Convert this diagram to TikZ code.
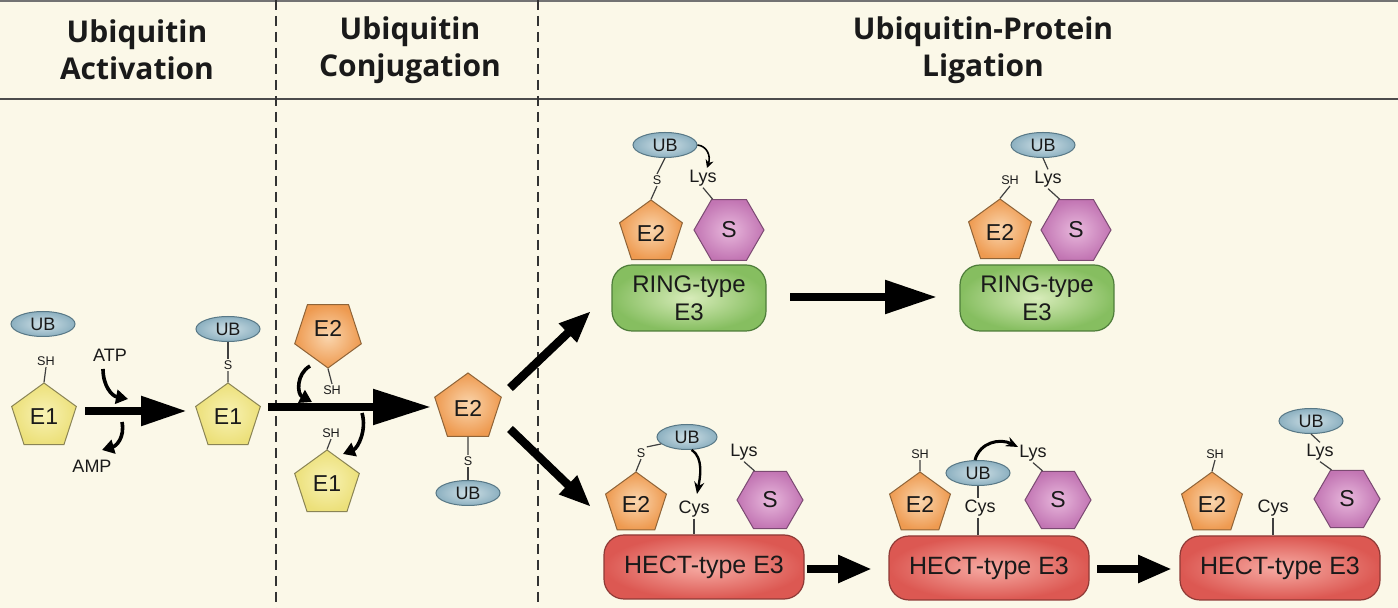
\documentclass[tikz,border=0pt]{standalone}
\usepackage{fontspec}
\setmainfont{Liberation Sans}
\newfontfamily\headfont{Open Sans}
\usetikzlibrary{shapes.geometric,arrows.meta}
\definecolor{bg}{HTML}{FBF8E8}
\definecolor{ubin}{HTML}{CFE0E6}
\definecolor{ubout}{HTML}{8CB0C0}
\definecolor{ubdr}{HTML}{587886}
\definecolor{eoin}{HTML}{F8F2B4}
\definecolor{eoout}{HTML}{ECE07A}
\definecolor{eodr}{HTML}{8A8455}
\definecolor{etin}{HTML}{FAD6AE}
\definecolor{etout}{HTML}{EE9A50}
\definecolor{etdr}{HTML}{8F6438}
\definecolor{sin}{HTML}{E8B8DC}
\definecolor{sout}{HTML}{C275B3}
\definecolor{sdr}{HTML}{7B4A72}
\definecolor{rgin}{HTML}{D8ECBA}
\definecolor{rgout}{HTML}{86BE60}
\definecolor{rgdr}{HTML}{4E7D3A}
\definecolor{hcin}{HTML}{F7ACA4}
\definecolor{hcout}{HTML}{DC5852}
\definecolor{hcdr}{HTML}{8E3A36}
\definecolor{ink}{HTML}{1A1A1A}
\begin{document}
\begin{tikzpicture}[x=0.5pt,y=-0.5pt,
  ub/.style={ellipse,minimum width=32pt,minimum height=12.5pt,inner sep=0pt,
    inner color=ubin,outer color=ubout,draw=ubdr,line width=0.5pt,
    font=\fontsize{9}{10}\selectfont,text=ink},
  eone/.style={regular polygon,regular polygon sides=5,minimum size=34pt,inner sep=0pt,
    inner color=eoin,outer color=eoout,draw=eodr,line width=0.5pt,
    font=\fontsize{11.5}{12}\selectfont,text=ink},
  etwo/.style={regular polygon,regular polygon sides=5,minimum size=33pt,inner sep=0pt,
    inner color=etin,outer color=etout,draw=etdr,line width=0.5pt,
    font=\fontsize{11.5}{12}\selectfont,text=ink},
  etwoinv/.style={etwo,minimum size=35pt,shape border rotate=180},
  sub/.style={regular polygon,regular polygon sides=6,minimum size=35pt,inner sep=0pt,
    inner color=sin,outer color=sout,draw=sdr,line width=0.5pt,
    font=\fontsize{11.5}{12}\selectfont,text=ink},
  ringbox/.style={rectangle,rounded corners=10pt,minimum width=77pt,minimum height=33pt,
    inner color=rgin,outer color=rgout,draw=rgdr,line width=0.6pt,align=center,
    font=\fontsize{12}{14}\selectfont,text=ink},
  hectbox/.style={rectangle,rounded corners=10pt,minimum width=100pt,minimum height=32pt,
    inner color=hcin,outer color=hcout,draw=hcdr,line width=0.6pt,
    font=\fontsize{12.5}{14}\selectfont,text=ink},
  lab/.style={inner sep=0.6pt,font=\fontsize{9}{10}\selectfont,text=ink},
  smalllab/.style={inner sep=0.6pt,font=\fontsize{6.3}{7}\selectfont,text=ink},
  head/.style={align=center,font=\headfont\bfseries\fontsize{15}{18.5}\selectfont,text=ink},
  con/.style={draw=black!75,line width=0.6pt},
  bigarrow/.style={draw=black,line width=4.2pt,-{Triangle[length=23pt,width=14pt]}},
  midarrow/.style={draw=black,line width=4.2pt,-{Triangle[length=16pt,width=12pt]}},
  bentarrow/.style={draw=black,line width=1.8pt,-{Triangle[length=6pt,width=7pt]}},
  thinbent/.style={draw=black,line width=0.8pt,-{Stealth[length=4pt,width=4pt]}},
  divider/.style={draw=black!80,line width=0.8pt,dash pattern=on 5pt off 3pt}
]
\useasboundingbox (0,0) rectangle (1398,608);
\fill[bg] (0,0) rectangle (1398,608);
\draw[black!55,line width=0.6pt] (0,1) -- (1398,1);
\draw[black!70,line width=1.1pt] (0,99) -- (1398,99);
\draw[divider] (276,0) -- (276,608);
\draw[divider] (538,0) -- (538,608);

% headers
\node[head] (h1) at (137,50) {Ubiquitin\\Activation};
\node[head] (h2) at (410,50) {Ubiquitin\\Conjugation};
\node[head] (h3) at (983,50) {Ubiquitin-Protein\\Ligation};

% ---------- activation ----------
\node[ub] (ub1) at (43,324) {UB};
\node[smalllab] (sh1) at (46,361) {SH};
\node[eone] (e1a) at (44,417) {E1};
\draw[con] (sh1.south) -- (e1a.north);
\node[lab] (atp) at (110,355) {ATP};
\node[lab] (amp) at (92,466) {AMP};
\coordinate (atps) at (103,369);
\coordinate (atpe) at (128,399);
\draw[bentarrow] (atps) .. controls (103,386) and (112,396) .. (atpe);
\coordinate (amps) at (122,422);
\coordinate (ampe) at (102,450);
\draw[bentarrow] (amps) .. controls (125,438) and (116,446) .. (ampe);
\coordinate (a1s) at (85,411);
\coordinate (a1e) at (187,411);
\draw[bigarrow] (a1s) -- (a1e);

\node[ub] (ub2) at (228,329) {UB};
\node[smalllab] (s2) at (228,365) {S};
\node[eone] (e1b) at (228,417) {E1};
\draw[con] (ub2.south) -- (s2.north);
\draw[con] (s2.south) -- (e1b.north);

% ---------- conjugation ----------
\coordinate (a2s) at (268,407);
\coordinate (a2e) at (431,407);
\draw[bigarrow,-{Triangle[length=29pt,width=17pt]}] (a2s) -- (a2e);
\node[etwoinv] (e2a) at (328,333) {};
\node[font=\fontsize{11.5}{12}\selectfont,text=ink] (e2at) at (328,328) {E2};
\node[smalllab] (sh3) at (332,390) {SH};
\draw[con] (e2a.south) -- (sh3.north);
\coordinate (c3s) at (310,366);
\coordinate (c3e) at (312,402);
\draw[bentarrow] (c3s) .. controls (296,374) and (297,394) .. (c3e);
\node[smalllab] (sh4) at (331,433) {SH};
\node[eone] (e1c) at (327,484) {E1};
\draw[con] (sh4.south) -- (e1c.north);
\coordinate (c4s) at (362,413);
\coordinate (c4e) at (343,454);
\draw[bentarrow] (c4s) .. controls (367,430) and (358,448) .. (c4e);

\node[etwo,minimum size=35pt] (e2b) at (468,408) {E2};
\node[smalllab] (s5) at (468,461) {S};
\node[ub] (ub5) at (468,493) {UB};
\draw[con] (e2b.south) -- (s5.north);
\draw[con] (s5.south) -- (ub5.north);

\coordinate (d1s) at (510,388);
\coordinate (d1e) at (591,311);
\draw[midarrow] (d1s) -- (d1e);
\coordinate (d2s) at (510,429);
\coordinate (d2e) at (591,507);
\draw[midarrow] (d2s) -- (d2e);

% ---------- RING 1 ----------
\node[ub] (ub6) at (665,145) {UB};
\node[smalllab] (s6) at (657,180) {S};
\node[etwo] (e26) at (651,233) {E2};
\node[lab] (lys6) at (703,178) {Lys};
\node[sub] (sub6) at (729,230) {S};
\node[ringbox] (ring1) at (689,298) {RING-type\\E3};
\draw[con] (ub6.south) -- (s6.north);
\draw[con] (s6.south) -- (e26.north);
\draw[con] (lys6.south) -- (sub6.118);
\coordinate (r6e) at (707,168);
\draw[thinbent] (ub6.east) .. controls (707,146) and (711,156) .. (r6e);

\coordinate (a7s) at (790,297);
\coordinate (a7e) at (937,297);
\draw[bigarrow,-{Triangle[length=26pt,width=16pt]}] (a7s) -- (a7e);

% ---------- RING 2 ----------
\node[ub] (ub7) at (1043,145) {UB};
\node[lab] (lys7) at (1048,179) {Lys};
\node[smalllab] (sh7) at (1010,180) {SH};
\node[etwo] (e27) at (1000,232) {E2};
\node[sub] (sub7) at (1076,230) {S};
\node[ringbox] (ring2) at (1037,298) {RING-type\\E3};
\draw[con] (ub7.south) -- (lys7.north);
\draw[con] (lys7.south) -- (sub7.118);
\draw[con] (sh7.south) -- (e27.north);

% ---------- HECT 1 ----------
\node[ub,minimum width=30pt] (ub8) at (687,437) {UB};
\node[smalllab] (s8) at (641,453) {S};
\node[etwo,minimum size=32pt] (e28) at (636,504) {E2};
\node[lab] (cys8) at (694,509) {Cys};
\node[lab] (lys8) at (744,452) {Lys};
\node[sub,minimum size=33pt] (sub8) at (770,500) {S};
\node[hectbox] (hect1) at (704,567) {HECT-type E3};
\draw[con] (ub8.195) -- (s8.north east);
\draw[con] (s8.south) -- (e28.north);
\draw[con] (cys8.south) -- (hect1.north -| cys8);
\draw[con] (lys8.south) -- (sub8.118);
\coordinate (h8e) at (697,494);
\draw[thinbent,line width=1.2pt,-{Stealth[length=6pt,width=5pt]}] (ub8.290) .. controls (704,458) and (700,478) .. (h8e);

\coordinate (a9s) at (807,569);
\coordinate (a9e) at (872,569);
\draw[bigarrow,-{Triangle[length=17pt,width=13pt]}] (a9s) -- (a9e);

% ---------- HECT 2 ----------
\node[smalllab] (sh9) at (920,454) {SH};
\node[etwo,minimum size=32pt] (e29) at (920,504) {E2};
\node[ub] (ub9) at (978,473) {UB};
\node[lab] (cys9) at (980,508) {Cys};
\node[lab] (lys9) at (1033,453) {Lys};
\node[sub,minimum size=33pt] (sub9) at (1058,500) {S};
\node[hectbox] (hect2) at (989,568) {HECT-type E3};
\draw[con] (sh9.south) -- (e29.north);
\draw[con] (ub9.south) -- (cys9.north -| ub9);
\draw[con] (cys9.south -| ub9) -- (hect2.north -| ub9);
\draw[con] (lys9.south) -- (sub9.118);
\coordinate (h9e) at (1018,447);
\draw[thinbent,line width=1.5pt,-{Stealth[length=6pt,width=5pt]}] (ub9.103) .. controls (980,442) and (1000,438) .. (h9e);

\coordinate (a10s) at (1097,569);
\coordinate (a10e) at (1172,569);
\draw[bigarrow,-{Triangle[length=17pt,width=13pt]}] (a10s) -- (a10e);

% ---------- HECT 3 ----------
\node[smalllab] (sh10) at (1215,454) {SH};
\node[etwo,minimum size=32pt] (e210) at (1212,504) {E2};
\node[lab] (cys10) at (1273,508) {Cys};
\node[ub] (ub10) at (1311,421) {UB};
\node[lab] (lys10) at (1320,452) {Lys};
\node[sub,minimum size=33pt] (sub10) at (1347,499) {S};
\node[hectbox] (hect3) at (1280,568) {HECT-type E3};
\draw[con] (sh10.south) -- (e210.north);
\draw[con] (cys10.south) -- (hect3.north -| cys10);
\draw[con] (ub10.south) -- (lys10.north);
\draw[con] (lys10.south) -- (sub10.118);
\end{tikzpicture}
\end{document}
